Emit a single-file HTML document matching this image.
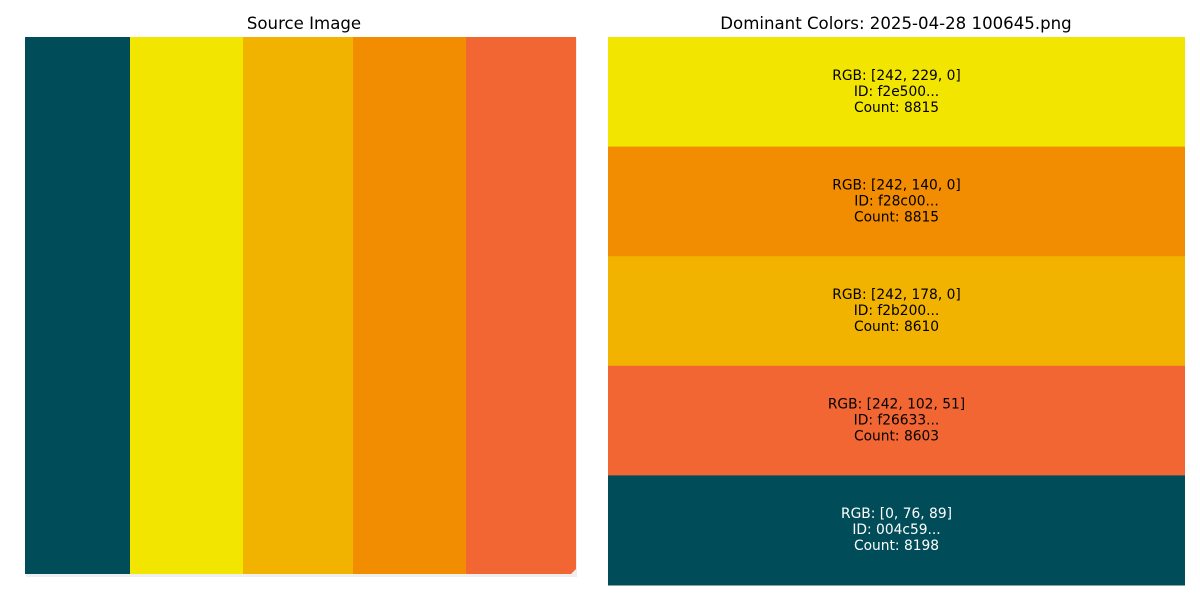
<!DOCTYPE html>
<html><head><meta charset="utf-8"><style>
body{margin:0;background:#fff;}
svg{display:block;font-family:"DejaVu Sans","Liberation Sans",sans-serif;}
</style></head><body>
<svg id="chart" width="1200" height="600" viewBox="0 0 1200 600">
<text x="304" y="29" font-size="16.6" text-anchor="middle">Source Image</text>
<g>
<rect x="26" y="38" width="551" height="539" fill="#efefef"/>
<rect x="25" y="37" width="106" height="537" fill="#004c59"/>
<rect x="130" y="37" width="113" height="537" fill="#f2e500"/>
<rect x="243" y="37" width="110" height="537" fill="#f2b200"/>
<rect x="353" y="37" width="113" height="537" fill="#f28c00"/>
<path d="M466 37H576V569L571 574H466Z" fill="#f26633"/>
</g>
<text x="896" y="29" font-size="16.6" text-anchor="middle">Dominant Colors: 2025-04-28 100645.png</text>
<g id="bands"></g>
</svg>
<script>
const rgbs=[[242,229,0],[242,140,0],[242,178,0],[242,102,51],[0,76,89]];
const ids=["f2e500...","f28c00...","f2b200...","f26633...","004c59..."];
const counts=[8815,8815,8610,8603,8198];
const g=document.getElementById('bands');
const NS='http://www.w3.org/2000/svg';
const x0=608,x1=1185,y0=37,y1=585;
const h=(y1-y0)/rgbs.length;
rgbs.forEach((c,i)=>{
  const y=y0+i*h;
  const r=document.createElementNS(NS,'rect');
  r.setAttribute('x',x0);r.setAttribute('y',y);r.setAttribute('width',x1-x0);r.setAttribute('height',h+0.5);
  r.setAttribute('fill',`rgb(${c[0]},${c[1]},${c[2]})`);
  
  
  g.appendChild(r);
  const lum=0.299*c[0]+0.587*c[1]+0.114*c[2];
  const lines=[`RGB: [${c[0]}, ${c[1]}, ${c[2]}]`,`ID: ${ids[i]}`,`Count: ${counts[i]}`];
  lines.forEach((s,j)=>{
    const t=document.createElementNS(NS,'text');
    t.setAttribute('x',(x0+x1)/2);t.setAttribute('y',y+h/2-12+j*16);
    t.setAttribute('font-size','13.8');t.setAttribute('text-anchor','middle');
    t.setAttribute('fill',lum<128?'#fff':'#000');
    
    
    t.textContent=s;g.appendChild(t);
  });
});
</script>
</body></html>
